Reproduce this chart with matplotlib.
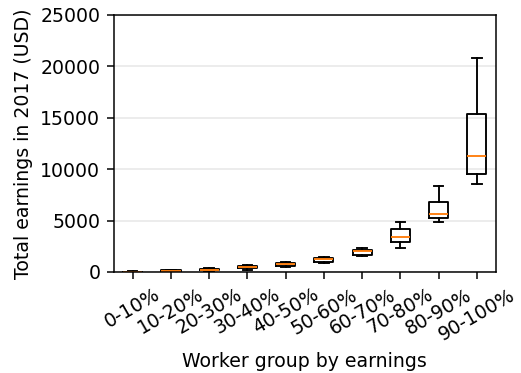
import matplotlib
matplotlib.use('Agg')
import matplotlib.pyplot as plt

# Box statistics (USD)
groups = ['0-10%', '10-20%', '20-30%', '30-40%', '40-50%',
          '50-60%', '60-70%', '70-80%', '80-90%', '90-100%']
whislo = [0, 10, 80, 230, 490, 870, 1580, 2370, 4830, 8530]
q1 = [10, 40, 140, 350, 600, 950, 1620, 2890, 5220, 9560]
med = [25, 80, 200, 460, 750, 1230, 2000, 3400, 5640, 11280]
q3 = [40, 150, 280, 560, 860, 1380, 2170, 4180, 6780, 15340]
whishi = [60, 220, 390, 650, 970, 1460, 2370, 4860, 8400, 20850]

stats = []
for i, g in enumerate(groups):
    stats.append({'label': g, 'whislo': whislo[i], 'q1': q1[i], 'med': med[i],
                  'q3': q3[i], 'whishi': whishi[i], 'fliers': []})

# the original looks like default styling rendered at ~136 dpi
dpi = 136
fig = plt.figure(figsize=(521 / dpi, 373 / dpi), dpi=dpi)
ax = fig.add_axes([0.218, 0.271, 0.734, 0.689])

ax.bxp(stats, showfliers=False,
       medianprops=dict(color='#ff7f0e'))

ax.set_ylim(0, 25000)
ax.set_yticks([0, 5000, 10000, 15000, 20000, 25000])
ax.yaxis.grid(True, color='#e6e6e6', linewidth=0.8)
ax.set_axisbelow(True)
plt.setp(ax.get_xticklabels(), rotation=30)
ax.set_xlabel('Worker group by earnings')
ax.set_ylabel('Total earnings in 2017 (USD)')

fig.savefig('out.png', dpi=dpi)
